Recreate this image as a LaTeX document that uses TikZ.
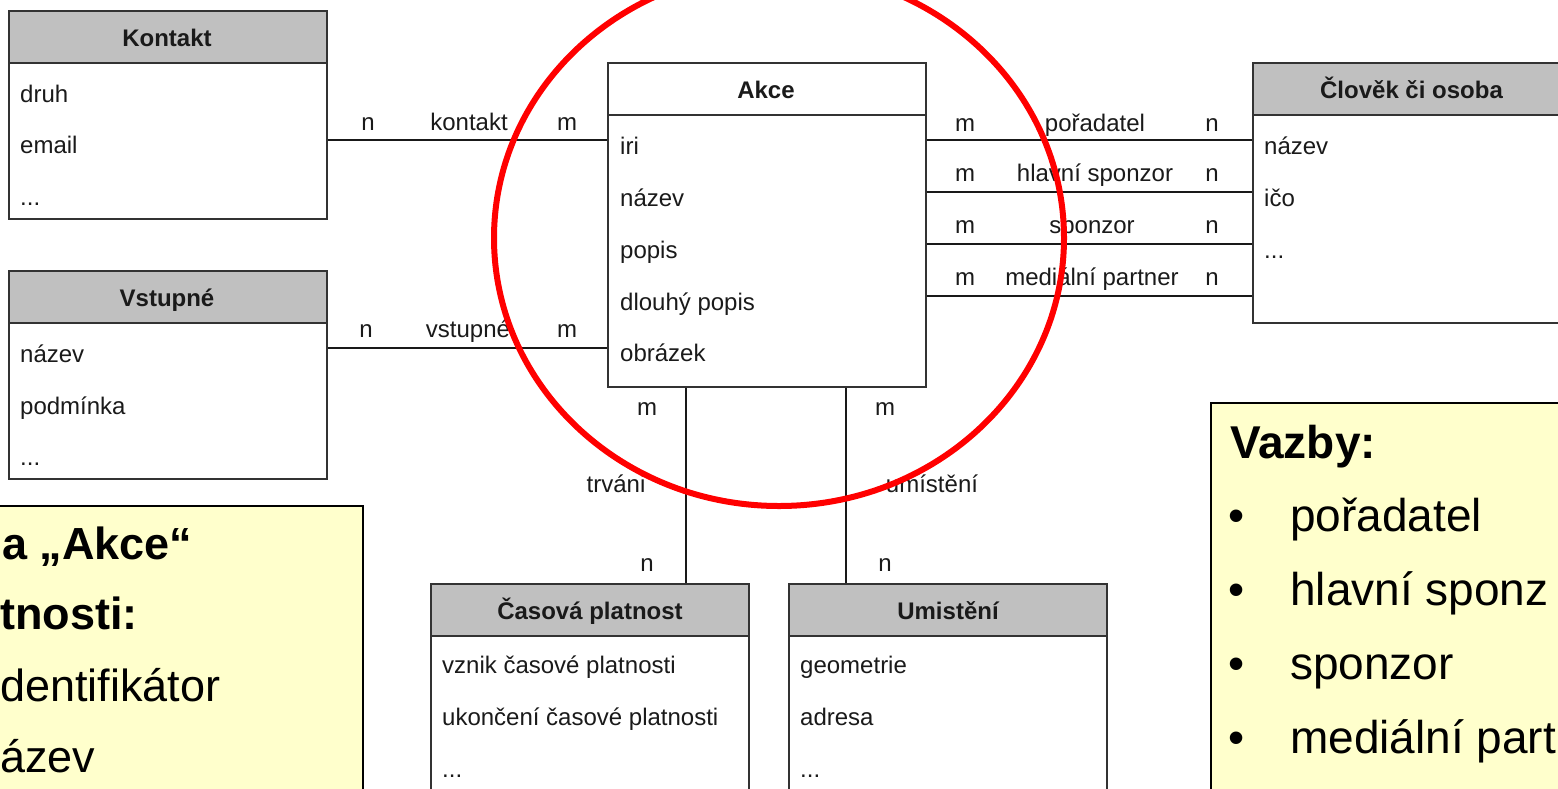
\documentclass[tikz,border=0pt]{standalone}
\usepackage{fontspec}
\setmainfont{Liberation Sans}
\definecolor{boxline}{HTML}{333333}
\definecolor{hdrgray}{HTML}{C0C0C0}
\definecolor{noteyellow}{HTML}{FFFFCC}
\definecolor{txt}{HTML}{1A1A1A}
\definecolor{ered}{HTML}{FF0000}
\newcommand\diagfont{\fontsize{24}{28}\selectfont}
\newcommand\notefont{\fontsize{46}{53}\selectfont}
\newcommand\lnotefont{\fontsize{45}{52}\selectfont}
\tikzset{
  ent/.style={draw=boxline, line width=1.6pt, fill=white, anchor=north west,
    minimum width=318pt, minimum height=208pt, inner sep=0pt,
    path picture={
      \fill[#1] (path picture bounding box.north west) rectangle ([yshift=-52pt]path picture bounding box.north east);
      \draw[line width=1.6pt, boxline] ([yshift=-52pt]path picture bounding box.north west) -- ([yshift=-52pt]path picture bounding box.north east);
    }},
  dtxt/.style={font=\diagfont, text=txt, inner sep=0pt, text height=17.3pt, text depth=5pt},
  hdr/.style={dtxt, font=\diagfont\bfseries, anchor=center},
  attr/.style={dtxt, anchor=west},
  lbl/.style={dtxt, anchor=center},
  conn/.style={draw=black!90, line width=1.5pt},
  note/.style={draw=black, line width=1.5pt, fill=noteyellow},
  ntext/.style={font=\notefont, text=black, inner sep=0pt, anchor=west, text height=33.3pt, text depth=9.4pt},
  lntext/.style={font=\lnotefont, text=black, inner sep=0pt, anchor=west, text height=32.5pt, text depth=9.2pt},
}
\begin{document}
\begin{tikzpicture}[x=1pt, y=-1pt]
\useasboundingbox (0,0) rectangle (1558,788);
\clip (0,0) rectangle (1558,788);
\fill[white] (0,0) rectangle (1558,788);

% entities
\node[ent=hdrgray] (kontakt) at (8,10) {};
\node[hdr] (kontaktH) at (167,40) {Kontakt};
\node[attr] (k1) at (20,96) {druh};
\node[attr] (k2) at (20,147.5) {email};
\node[attr] (k3) at (20,199) {...};

\node[ent=hdrgray] (vstupne) at (8,270) {};
\node[hdr] (vstupneH) at (167,300) {Vstupné};
\node[attr] (v1) at (20,356.5) {název};
\node[attr] (v2) at (20,408) {podmínka};
\node[attr] (v3) at (20,459.5) {...};

\node[ent=white, minimum height=324pt] (akce) at (607,62) {};
\node[hdr] (akceH) at (766,92) {Akce};
\node[attr] (a1) at (620,148.5) {iri};
\node[attr] (a2) at (620,200.5) {název};
\node[attr] (a3) at (620,252) {popis};
\node[attr] (a4) at (620,304) {dlouhý popis};
\node[attr] (a5) at (620,355.5) {obrázek};

\node[ent=hdrgray, minimum height=260pt] (clovek) at (1252,62) {};
\node[hdr] (clovekH) at (1411.5,92) {Člověk či osoba};
\node[attr] (c1) at (1264,148.5) {název};
\node[attr] (c2) at (1264,200.5) {ičo};
\node[attr] (c3) at (1264,252) {...};

\node[ent=hdrgray] (cas) at (430,583) {};
\node[hdr] (casH) at (590,613) {Časová platnost};
\node[attr] (t1) at (442,667.5) {vznik časové platnosti};
\node[attr] (t2) at (442,719.5) {ukončení časové platnosti};
\node[attr] (t3) at (442,771) {...};

\node[ent=hdrgray] (umist) at (788,583) {};
\node[hdr] (umistH) at (948,613) {Umistění};
\node[attr] (u1) at (800,667.5) {geometrie};
\node[attr] (u2) at (800,719.5) {adresa};
\node[attr] (u3) at (800,771) {...};

% connector rows / columns
\coordinate (rk) at (0,140);
\coordinate (rv) at (0,348);
\coordinate (r1) at (0,140);
\coordinate (r2) at (0,192);
\coordinate (r3) at (0,244);
\coordinate (r4) at (0,296);
\coordinate (cT) at (686,0);
\coordinate (cU) at (846,0);

\draw[conn] (kontakt.east |- rk) -- (akce.west |- rk);
\node[lbl] at (368,124.5) {n};
\node[lbl] at (469,124.5) {kontakt};
\node[lbl] at (567,124.5) {m};

\draw[conn] (vstupne.east |- rv) -- (akce.west |- rv);
\node[lbl] at (366,331) {n};
\node[lbl] at (468,331) {vstupné};
\node[lbl] at (567,331) {m};

\draw[conn] (akce.east |- r1) -- (clovek.west |- r1);
\draw[conn] (akce.east |- r2) -- (clovek.west |- r2);
\draw[conn] (akce.east |- r3) -- (clovek.west |- r3);
\draw[conn] (akce.east |- r4) -- (clovek.west |- r4);
\node[lbl] at (965,125) {m};
\node[lbl] at (1095,125) {pořadatel};
\node[lbl] at (1212,125) {n};
\node[lbl] at (965,175.5) {m};
\node[lbl] at (1095,175.5) {hlavní sponzor};
\node[lbl] at (1212,175.5) {n};
\node[lbl] at (965,227) {m};
\node[lbl] at (1092,227) {sponzor};
\node[lbl] at (1212,227) {n};
\node[lbl] at (965,279.5) {m};
\node[lbl] at (1092,279.5) {mediální partner};
\node[lbl] at (1212,279.5) {n};

\draw[conn] (akce.south -| cT) -- (cas.north -| cT);
\node[lbl] at (647,409.5) {m};
\node[lbl] at (616,486) {trváni};
\node[lbl] at (647,565.5) {n};

\draw[conn] (akce.south -| cU) -- (umist.north -| cU);
\node[lbl] at (885,409.5) {m};
\node[lbl] at (932,486) {umístění};
\node[lbl] at (885,565.5) {n};

% notes
\node[note, anchor=north west, minimum width=392pt, minimum height=320pt] (noteL) at (-30,505) {};
\node[lntext, font=\lnotefont\bfseries] at (2,548) {a „Akce“};
\node[lntext, font=\lnotefont\bfseries] at (0,618) {tnosti:};
\node[lntext] at (0,690) {dentifikátor};
\node[lntext] at (0,761) {ázev};

\node[note, anchor=north west, minimum width=400pt, minimum height=420pt] (noteR) at (1210,402) {};
\node[ntext, font=\notefont\bfseries] at (1230,447) {Vazby:};
\node[ntext] at (1228,520) {\textbullet};
\node[ntext] at (1290,520) {pořadatel};
\node[ntext] at (1228,594) {\textbullet};
\node[ntext] at (1290,594) {hlavní sponz};
\node[ntext] at (1228,668) {\textbullet};
\node[ntext] at (1290,668) {sponzor};
\node[ntext] at (1228,742) {\textbullet};
\node[ntext] at (1290,742) {mediální part};

% red highlight
\draw[ered, line width=6pt] (779,238) ellipse [x radius=285pt, y radius=268pt];
\end{tikzpicture}
\end{document}
